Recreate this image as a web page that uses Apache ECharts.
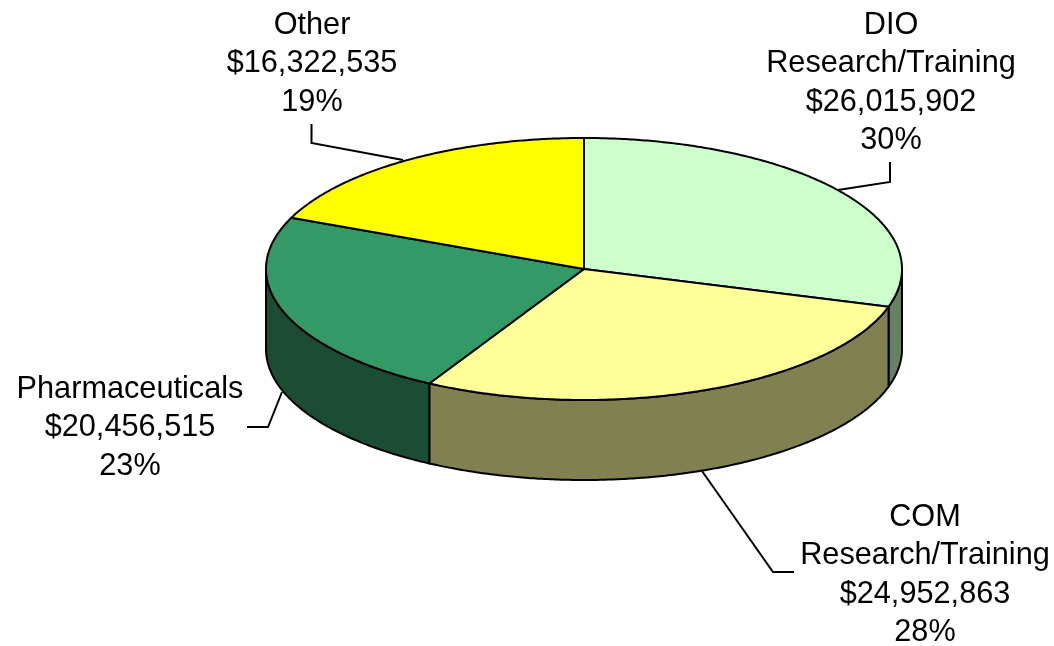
<!DOCTYPE html>
<html>
<head>
<meta charset="utf-8">
<style>html,body{margin:0;padding:0;background:#fff}#c{width:1054px;height:646px}</style>
<script src="https://cdn.jsdelivr.net/npm/echarts@6/dist/echarts.min.js"></script>
</head>
<body>
<div id="c"></div>
<script>
const categories = ['DIO\nResearch/Training', 'COM\nResearch/Training', 'Pharmaceuticals', 'Other'];
const amounts = [26015902, 24952863, 20456515, 16322535];
const topColors = ['#CCFFCC', '#FFFF99', '#339966', '#FFFF00'];
const sideColors = ['#668066', '#808050', '#1A4D33', '#808000'];
const labelCenters = [[891, 83], [925, 575], [130, 428], [312, 64]];
const leaders = [
  [[890, 162], [890, 182], [838, 190]],
  [[702, 471], [773, 572], [794, 572]],
  [[247, 427], [268, 427], [282, 392]],
  [[311.5, 124], [311.5, 143], [403, 160]]
];
const pie = { cx: 584, cy: 269, rx: 318, ry: 131, depth: 80 };

const total = amounts.reduce((a, b) => a + b, 0);
const money = v => '$' + v.toLocaleString('en-US');
const pt = (deg, dy) => {
  const r = deg * Math.PI / 180;
  return [pie.cx + pie.rx * Math.sin(r), pie.cy - pie.ry * Math.cos(r) + (dy || 0)];
};
const arc = (a, b, dy) => {
  const out = [];
  const n = Math.max(2, Math.ceil((b - a) / 0.5));
  for (let i = 0; i <= n; i++) out.push(pt(a + (b - a) * i / n, dy));
  return out;
};
const starts = [];
amounts.reduce((acc, v, i) => { starts[i] = acc; return acc + v; }, 0);

function renderItem(params, api) {
  const i = params.dataIndex;
  const a0 = api.value(1) / total * 360;
  const a1 = a0 + api.value(0) / total * 360;
  const children = [];
  const s0 = Math.max(a0, 90), s1 = Math.min(a1, 270);
  if (s1 > s0) {
    children.push({
      type: 'polygon',
      shape: { points: arc(s0, s1, 0).concat(arc(s0, s1, pie.depth).reverse()) },
      style: { fill: sideColors[i], stroke: '#000', lineWidth: 2, lineJoin: 'round' }
    });
  }
  children.push({
    type: 'polygon',
    shape: { points: [[pie.cx, pie.cy]].concat(arc(a0, a1, 0)) },
    style: { fill: topColors[i], stroke: '#000', lineWidth: 2, lineJoin: 'round' }
  });
  children.push({
    type: 'polyline',
    shape: { points: leaders[i] },
    style: { fill: null, stroke: '#000', lineWidth: 2 }
  });
  const pct = Math.round(api.value(0) / total * 100) + '%';
  children.push({
    type: 'text',
    style: {
      x: labelCenters[i][0], y: labelCenters[i][1],
      text: categories[i] + '\n' + money(amounts[i]) + '\n' + pct,
      fill: '#000', align: 'center', verticalAlign: 'middle',
      fontFamily: '"Liberation Sans", Arial, sans-serif', fontSize: 30.7, lineHeight: 38.6
    }
  });
  return { type: 'group', children };
}

const chart = echarts.init(document.getElementById('c'), null, { renderer: 'canvas' });
chart.setOption({
  animation: false,
  backgroundColor: '#fff',
  series: [{
    type: 'custom',
    coordinateSystem: 'none',
    renderItem,
    silent: true,
    encode: { value: [0, 1] },
    data: amounts.map((v, i) => [v, starts[i]])
  }]
});
</script>
</body>
</html>
